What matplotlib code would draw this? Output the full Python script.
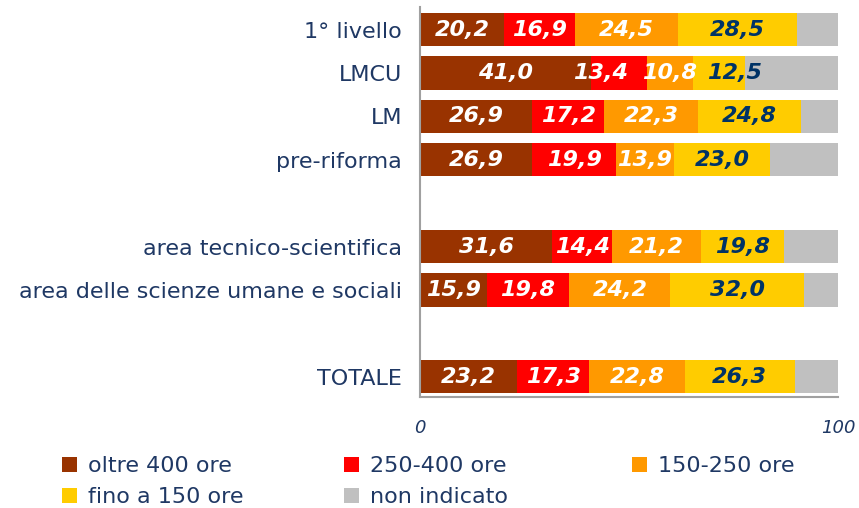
import matplotlib.pyplot as plt
import numpy as np

# categories (empty strings are spacer rows)
categories = ["1° livello", "LMCU", "LM", "pre-riforma", "",
              "area tecnico-scientifica", "area delle scienze umane e sociali", "",
              "TOTALE"]
oltre_400 = [20.2, 41.0, 26.9, 26.9, 0, 31.6, 15.9, 0, 23.2]
ore_250_400 = [16.9, 13.4, 17.2, 19.9, 0, 14.4, 19.8, 0, 17.3]
ore_150_250 = [24.5, 10.8, 22.3, 13.9, 0, 21.2, 24.2, 0, 22.8]
fino_150 = [28.5, 12.5, 24.8, 23.0, 0, 19.8, 32.0, 0, 26.3]
non_indicato = [9.9, 22.3, 8.8, 16.3, 0, 13.0, 8.1, 0, 10.4]

series_names = ["oltre 400 ore", "250-400 ore", "150-250 ore", "fino a 150 ore", "non indicato"]
colors = ["#993300", "#FF0000", "#FF9900", "#FFCC00", "#C0C0C0"]
label_colors = ["white", "white", "white", "#003366", None]
text_color = "#1F3864"

# nudges for crowded labels (row, series) -> x shift in %
nudge = {(1, 1): -4.6, (1, 3): 3.8}

series = [oltre_400, ore_250_400, ore_150_250, fino_150, non_indicato]

fig = plt.figure(figsize=(8.59, 5.08), dpi=100)
ax = fig.add_axes([0.489, 0.2185, 0.4866, 0.7675])

y = np.arange(len(categories))
left = np.zeros(len(categories))
for si, (vals, name, col, lcol) in enumerate(zip(series, series_names, colors, label_colors)):
    vals = np.array(vals)
    ax.barh(y, vals, left=left, height=0.77, color=col, label=name)
    if lcol is not None:
        for yi, (l, v) in enumerate(zip(left, vals)):
            if v > 0:
                ax.text(l + v / 2 + nudge.get((yi, si), 0), yi, f"{v:.1f}".replace(".", ","),
                        ha="center", va="center", color=lcol, fontsize=16,
                        fontweight="bold", fontstyle="italic")
    left += vals

ax.set_xlim(0, 100)
ax.set_ylim(8.47, -0.52)
ax.set_xticks([0, 100])
ax.set_xticklabels(["0", "100"], fontstyle="italic", color=text_color, fontsize=13)
ax.set_yticks([i for i, c in enumerate(categories) if c])
ax.set_yticklabels([c for c in categories if c], color=text_color, fontsize=16)
ax.tick_params(axis="both", length=0)
ax.tick_params(axis="x", pad=16)
ax.tick_params(axis="y", pad=13)
for s in ["top", "right"]:
    ax.spines[s].set_visible(False)
for s in ["left", "bottom"]:
    ax.spines[s].set_color("#A0A0A0")
    ax.spines[s].set_linewidth(1.5)

# legend: three columns placed side by side, filled row by row
handles, labels = ax.get_legend_handles_labels()
col_x = [62, 344, 632]
W, H = 859, 508
for c, x0 in enumerate(col_x):
    leg = fig.legend(handles[c::3], labels[c::3], loc="upper left",
                     bbox_to_anchor=(x0 / W, 1 - 456 / H), frameon=False, fontsize=16,
                     borderpad=0, borderaxespad=0, handlelength=0.68, handleheight=0.68,
                     handletextpad=0.5, labelspacing=0.5)
    for t in leg.get_texts():
        t.set_color(text_color)

fig.savefig("out.png", dpi=100)
